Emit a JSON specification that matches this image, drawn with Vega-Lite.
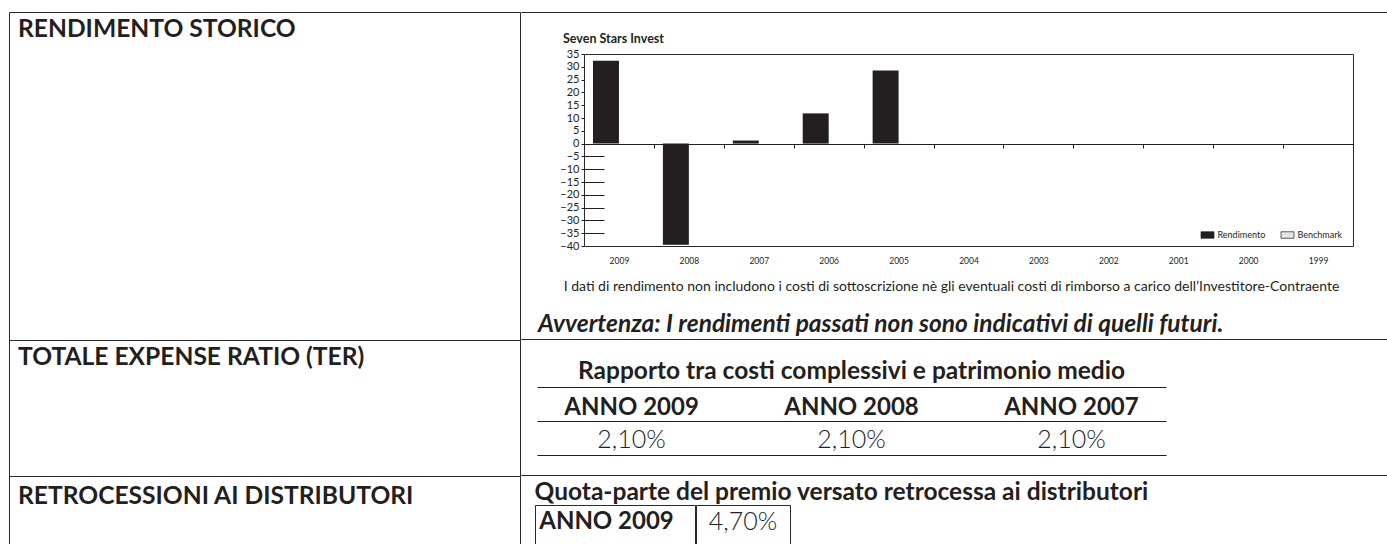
{
  "$schema": "https://vega.github.io/schema/vega-lite/v6.json",
  "padding": {"left": 8, "top": 11, "right": 0, "bottom": 0},
  "background": "white",
  "config": {
    "font": "Lato",
    "view": {"stroke": "#2b2b2b", "strokeWidth": 1},
    "title": {"font": "Lato", "color": "#231f20", "fontWeight": "bold"},
    "axis": {"labelFont": "Lato", "titleFont": "Lato", "labelColor": "#231f20", "titleColor": "#231f20"},
    "legend": {"labelFont": "Lato", "labelColor": "#231f20"},
    "text": {"font": "Lato", "color": "#231f20"}
  },
  "spacing": -1,
  "hconcat": [
    {
      "spacing": 0,
      "bounds": "flush",
      "vconcat": [
        {"width": 511, "height": 328, "data": {"values": []}, "mark": {"type": "point", "opacity": 0},
         "encoding": {"x": {"datum": 0, "type": "quantitative", "axis": null}, "y": {"datum": 0, "type": "quantitative", "axis": null}},
         "title": {"text": "RENDIMENTO STORICO", "anchor": "start", "frame": "group", "orient": "top", "offset": -31, "dx": 9, "fontSize": 24.6}},
        {"width": 511, "height": 136, "data": {"values": []}, "mark": {"type": "point", "opacity": 0},
         "encoding": {"x": {"datum": 0, "type": "quantitative", "axis": null}, "y": {"datum": 0, "type": "quantitative", "axis": null}},
         "title": {"text": "TOTALE EXPENSE RATIO (TER)", "anchor": "start", "frame": "group", "orient": "top", "offset": -31, "dx": 9, "fontSize": 24.6}},
        {"width": 511, "height": 80, "data": {"values": []}, "mark": {"type": "point", "opacity": 0},
         "encoding": {"x": {"datum": 0, "type": "quantitative", "axis": null}, "y": {"datum": 0, "type": "quantitative", "axis": null}},
         "title": {"text": "RETROCESSIONI AI DISTRIBUTORI", "anchor": "start", "frame": "group", "orient": "top", "offset": -34, "dx": 9, "fontSize": 24.6}}
      ]
    },
    {
      "spacing": 0,
      "vconcat": [
        {"width": 867, "height": 0.001, "data": {"values": []}, "mark": {"type": "point", "opacity": 0},
         "encoding": {"x": {"datum": 0, "type": "quantitative", "axis": null}, "y": {"datum": 0, "type": "quantitative", "axis": null}}},
        {
          "spacing": 0,
          "vconcat": [
            {"width": 1, "height": 18, "data": {"values": []}, "mark": "point", "view": {"stroke": null}},
            {
              "spacing": 0,
              "hconcat": [
                {"width": 15.5, "height": 1, "data": {"values": []}, "mark": "point", "view": {"stroke": null}},
                {
                  "width": 769,
                  "height": 192,
                  "data": {"values": [
                    {"anno": "2009", "serie": "Rendimento", "valore": 32.4},
                    {"anno": "2008", "serie": "Rendimento", "valore": -39.5},
                    {"anno": "2007", "serie": "Rendimento", "valore": 1.2},
                    {"anno": "2006", "serie": "Rendimento", "valore": 11.8},
                    {"anno": "2005", "serie": "Rendimento", "valore": 28.6}
                  ]},
                  "title": {"text": "Avvertenza: I rendimenti passati non sono indicativi di quelli futuri.", "orient": "bottom", "anchor": "start", "frame": "group", "offset": 20, "dx": -46, "fontSize": 24.5, "fontStyle": "italic", "fontWeight": "bold", "baseline": "top"},
                  "mark": {"type": "bar"},
                  "encoding": {
                    "x": {"field": "anno", "type": "nominal", "sort": null,
                      "scale": {"domain": ["2009", "2008", "2007", "2006", "2005", "2004", "2003", "2002", "2001", "2000", "1999"], "paddingInner": 0, "paddingOuter": 0},
                      "axis": {"orient": "bottom", "offset": -102, "domain": true, "domainColor": "#231f20", "ticks": true, "tickBand": "extent", "tickSize": 4, "tickColor": "#231f20", "labelAngle": 0, "labelFontSize": 8.5, "labelPadding": 108, "grid": false,
                        "title": "I dati di rendimento non includono i costi di sottoscrizione nè gli eventuali costi di rimborso a carico dell’Investitore-Contraente",
                        "titleFontSize": 14, "titleFontWeight": "normal", "titleX": 367, "titleY": 146, "titleAlign": "center", "titleBaseline": "alphabetic", "titleLimit": 2000}},
                    "xOffset": {"field": "serie", "type": "nominal", "scale": {"domain": ["Rendimento", "Benchmark"], "paddingInner": 0, "paddingOuter": 0.346}},
                    "y": {"field": "valore", "type": "quantitative",
                      "scale": {"domain": [-40, 35], "nice": false},
                      "axis": {"values": [-40, -35, -30, -25, -20, -15, -10, -5, 0, 5, 10, 15, 20, 25, 30, 35], "domain": false, "tickSize": 3, "tickColor": "#231f20", "labelFontSize": 11, "labelPadding": 2, "labelOverlap": false, "labelFlush": false, "labelBound": false,
                        "grid": true, "gridColor": "#231f20", "gridDash": [20, 1000],
                        "gridOpacity": {"condition": {"test": "datum.value < 0 && datum.value > -40", "value": 1}, "value": 0},
                        "title": "Seven Stars Invest", "titleAngle": 0, "titleAlign": "left", "titleBaseline": "alphabetic", "titleX": -21.5, "titleY": -12, "titleFontSize": 12.5, "titleFontWeight": "bold"}},
                    "color": {"field": "serie", "type": "nominal",
                      "scale": {"domain": ["Rendimento", "Benchmark"], "range": ["#231f20", "#e6e6e6"]},
                      "legend": {"orient": "none", "legendX": 1191.5, "legendY": 216, "direction": "horizontal", "title": null, "symbolType": "M-1,-0.5H1V0.5H-1Z", "symbolSize": 169, "symbolStrokeColor": "#231f20", "symbolStrokeWidth": 0.7, "symbolOpacity": 1, "labelFontSize": 9, "labelOffset": 3, "columnPadding": 14, "padding": 0}}
                  }
                }
              ]
            },
            {"width": 1, "height": 1, "data": {"values": []}, "mark": "point", "view": {"stroke": null}}
          ]
        },
        {"width": 867, "height": 0.001, "data": {"values": []}, "mark": {"type": "point", "opacity": 0},
         "encoding": {"x": {"datum": 0, "type": "quantitative", "axis": null}, "y": {"datum": 0, "type": "quantitative", "axis": null}}},
        {
          "spacing": 0,
          "vconcat": [
            {"width": 1, "height": 18, "data": {"values": []}, "mark": "point", "view": {"stroke": null}},
            {
              "spacing": 0,
              "hconcat": [
                {"width": 16, "height": 1, "data": {"values": []}, "mark": "point", "view": {"stroke": null}},
                {
                  "width": 629,
                  "height": 68,
                  "view": {"stroke": null},
                  "data": {"values": [
                    {"anno": "ANNO 2009", "ter": "2,10%"},
                    {"anno": "ANNO 2008", "ter": "2,10%"},
                    {"anno": "ANNO 2007", "ter": "2,10%"}
                  ]},
                  "title": {"text": "Rapporto tra costi complessivi e patrimonio medio", "anchor": "middle", "frame": "group", "orient": "top", "offset": 3, "fontSize": 24.5},
                  "encoding": {
                    "x": {"field": "anno", "type": "nominal", "sort": null, "scale": {"type": "point", "padding": 0.43},
                      "axis": {"orient": "bottom", "domain": true, "domainColor": "#231f20", "ticks": false, "labels": false, "grid": false, "title": null}}
                  },
                  "layer": [
                    {"mark": {"type": "text", "fontSize": 24, "fontWeight": "bold", "baseline": "middle", "dy": 4},
                     "encoding": {
                       "y": {"datum": "intestazione", "type": "nominal",
                         "scale": {"type": "band", "domain": ["intestazione", "valore"], "paddingInner": 0, "paddingOuter": 0},
                         "axis": {"bandPosition": 0, "grid": true, "gridColor": "#231f20", "domain": false, "ticks": false, "labels": false, "title": null}},
                       "text": {"field": "anno"}}},
                    {"mark": {"type": "text", "fontSize": 25, "fontWeight": 300, "baseline": "middle", "dy": 2},
                     "encoding": {
                       "y": {"datum": "valore", "type": "nominal"},
                       "text": {"field": "ter"}}}
                  ]
                }
              ]
            },
            {"width": 1, "height": 19, "data": {"values": []}, "mark": "point", "view": {"stroke": null}}
          ]
        },
        {"width": 867, "height": 0.001, "data": {"values": []}, "mark": {"type": "point", "opacity": 0},
         "encoding": {"x": {"datum": 0, "type": "quantitative", "axis": null}, "y": {"datum": 0, "type": "quantitative", "axis": null}}},
        {
          "spacing": 0,
          "vconcat": [
            {"width": 1, "height": 4, "data": {"values": []}, "mark": "point", "view": {"stroke": null}},
            {
              "spacing": 0,
              "hconcat": [
                {"width": 13, "height": 1, "data": {"values": []}, "mark": "point", "view": {"stroke": null}},
                {
                  "spacing": -1,
                  "title": {"text": "Quota-parte del premio versato retrocessa ai distributori", "anchor": "start", "orient": "top", "offset": -1, "fontSize": 24.5},
                  "data": {"values": [{"anno": "ANNO 2009", "quota": "4,70%"}]},
                  "hconcat": [
                    {"width": 160, "height": 62,
                     "mark": {"type": "text", "fontSize": 24, "fontWeight": "bold", "baseline": "middle"},
                     "encoding": {
                       "text": {"field": "anno"},
                       "x": {"field": "anno", "type": "nominal", "scale": {"type": "band", "range": [0, 143]}, "axis": null},
                       "y": {"field": "anno", "type": "nominal", "scale": {"type": "band", "range": [0, 34]}, "axis": null}}},
                    {"width": 94, "height": 62,
                     "mark": {"type": "text", "fontSize": 25, "fontWeight": 300, "baseline": "middle"},
                     "encoding": {
                       "text": {"field": "quota"},
                       "x": {"field": "quota", "type": "nominal", "scale": {"type": "band", "range": [0, 94]}, "axis": null},
                       "y": {"field": "quota", "type": "nominal", "scale": {"type": "band", "range": [0, 34]}, "axis": null}}}
                  ]
                }
              ]
            }
          ]
        }
      ]
    }
  ]
}
